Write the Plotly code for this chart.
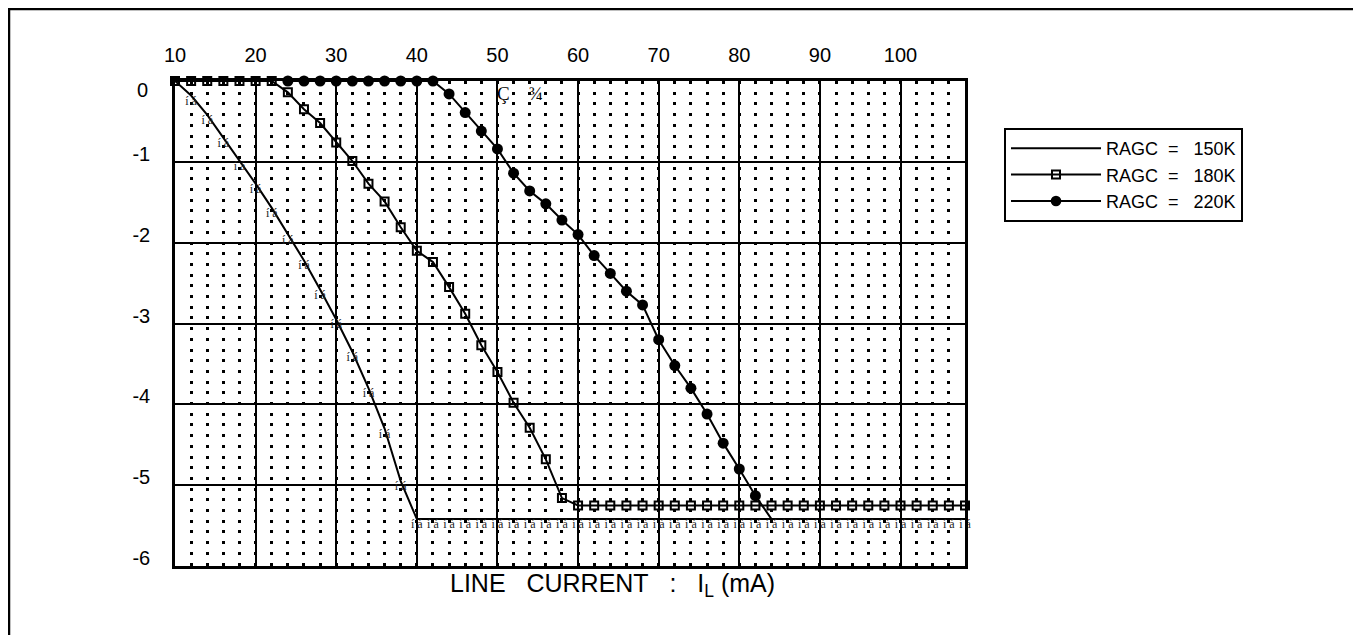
import plotly.graph_objects as go

# ---------------- data ----------------
x_150 = [10, 12, 14, 16, 18, 20, 22, 24, 26, 28, 30, 32, 34, 36, 38, 40, 42, 44, 46, 48,
         50, 52, 54, 56, 58, 60, 62, 64, 66, 68, 70, 72, 74, 76, 78, 80, 82, 84, 86, 88,
         90, 92, 94, 96, 98, 100, 102, 104, 106, 108]
y_150 = [0, -0.18, -0.42, -0.70, -0.99, -1.27, -1.57, -1.90, -2.22, -2.58, -2.95, -3.35,
         -3.80, -4.30, -4.95, -5.42, -5.42, -5.42, -5.42, -5.42, -5.42, -5.42, -5.42, -5.42,
         -5.42, -5.42, -5.42, -5.42, -5.42, -5.42, -5.42, -5.42, -5.42, -5.42, -5.42, -5.42,
         -5.42, -5.42, -5.42, -5.42, -5.42, -5.42, -5.42, -5.42, -5.42, -5.42, -5.42, -5.42,
         -5.42, -5.42]

x_180 = [10, 12, 14, 16, 18, 20, 22, 24, 26, 28, 30, 32, 34, 36, 38, 40, 42, 44, 46, 48,
         50, 52, 54, 56, 58, 60, 62, 64, 66, 68, 70, 72, 74, 76, 78, 80, 82, 84, 86, 88,
         90, 92, 94, 96, 98, 100, 102, 104, 106, 108]
y_180 = [0, 0, 0, 0, 0, 0, 0, -0.14, -0.35, -0.52, -0.76, -0.99, -1.27, -1.49, -1.81,
         -2.10, -2.24, -2.55, -2.88, -3.27, -3.60, -3.98, -4.29, -4.68, -5.16, -5.25,
         -5.25, -5.25, -5.25, -5.25, -5.25, -5.25, -5.25, -5.25, -5.25, -5.25, -5.25,
         -5.25, -5.25, -5.25, -5.25, -5.25, -5.25, -5.25, -5.25, -5.25, -5.25, -5.25,
         -5.25, -5.25]

x_220 = [24, 26, 28, 30, 32, 34, 36, 38, 40, 42, 44, 46, 48, 50, 52, 54, 56, 58, 60, 62,
         64, 66, 68, 70, 72, 74, 76, 78, 80, 82, 84]
y_220 = [0, 0, 0, 0, 0, 0, 0, 0, 0, 0, -0.16, -0.39, -0.62, -0.84, -1.14, -1.36, -1.52,
         -1.72, -1.90, -2.16, -2.38, -2.60, -2.77, -3.20, -3.52, -3.80, -4.12, -4.48,
         -4.80, -5.13, -5.42]

series_names = ["RAGC\u00a0\u00a0=\u00a0\u00a0\u00a0150K", "RAGC\u00a0\u00a0=\u00a0\u00a0\u00a0180K",
                "RAGC\u00a0\u00a0=\u00a0\u00a0\u00a0220K"]
x_ticks = [10, 20, 30, 40, 50, 60, 70, 80, 90, 100]
y_ticks = [0, -1, -2, -3, -4, -5, -6]
y_tick_labels = ["", "-1", "-2", "-3", "-4", "-5", "-6"]
y_zero_label = "0"
x_title = ("LINE\u00a0\u00a0\u00a0CURRENT\u00a0\u00a0\u00a0:\u00a0\u00a0\u00a0"
           "I<sub>L</sub>\u00a0(mA)")
note_text = "Ç\u00a0\u00a0\u00a0\u00a0¾"
glyph_text = "í\u00a0á"

# ---------------- figure ----------------
fig = go.Figure()

fig.add_trace(go.Scatter(
    x=x_150, y=y_150, mode="lines", name=series_names[0], legendgroup="a",
    line=dict(color="black", width=2), cliponaxis=False))
fig.add_trace(go.Scatter(
    x=x_150[1:], y=y_150[1:], mode="text", text=[glyph_text] * (len(x_150) - 1),
    textposition="bottom center", showlegend=False, hoverinfo="skip",
    textfont=dict(family="Liberation Serif, serif", size=12, color="#222"),
    cliponaxis=False))
fig.add_trace(go.Scatter(
    x=x_180, y=y_180, mode="lines+markers", name=series_names[1], legendgroup="b",
    line=dict(color="black", width=2),
    marker=dict(symbol="square-open", size=8, color="black", opacity=1,
                line=dict(width=2, color="black")),
    cliponaxis=False))
sizes_220 = [11] * (len(x_220) - 1) + [0]
fig.add_trace(go.Scatter(
    x=x_220, y=y_220, mode="lines+markers", name=series_names[2], legendgroup="c",
    line=dict(color="black", width=2),
    marker=dict(symbol="circle", size=sizes_220, color="black", opacity=1,
                line=dict(width=0, color="black")),
    cliponaxis=False))

# page body margin offset (reference pixel P -> figure pixel P - OFF)
OFF = 8
W, H = 1361 - OFF, 635 - OFF
L = 175 - OFF
T = 81 - OFF
R = W - (965 - OFF)
B = H - (566 - OFF)
pw, ph = W - L - R, H - T - B

def px(xp):
    return (xp - OFF - L) / pw

def py(yp):
    return (H - B - (yp - OFF)) / ph

fig.update_layout(
    width=W, height=H,
    margin=dict(l=L, r=R, t=T, b=B, pad=0),
    paper_bgcolor="white", plot_bgcolor="white",
    font=dict(family="Arial, Liberation Sans, sans-serif", size=20, color="black"),
    xaxis=dict(
        range=[10, 108], side="top", tickmode="array", tickvals=x_ticks,
        showgrid=True, gridcolor="black", gridwidth=2, zeroline=False,
        showline=True, linecolor="black", linewidth=2.5, mirror="ticks",
        ticks="inside", ticklen=5, tickwidth=2, tickcolor="black",
        ticklabelstandoff=8,
        minor=dict(dtick=2, tick0=10, showgrid=True, gridcolor="black", gridwidth=3,
                   griddash="3px,7.7px", ticks=""),
    ),
    yaxis=dict(
        range=[-6, 0], tickmode="array", tickvals=y_ticks, ticktext=y_tick_labels,
        showgrid=True, gridcolor="black", gridwidth=2, zeroline=False,
        showline=True, linecolor="black", linewidth=2.5, mirror=True,
        ticks="", ticklabelstandoff=18, ticklabelshift=-8,
    ),
    legend=dict(
        x=px(1004), y=py(128), xanchor="left", yanchor="top",
        bordercolor="black", borderwidth=2, bgcolor="white",
        font=dict(size=18), itemwidth=90, tracegroupgap=0,
    ),
    showlegend=True,
    shapes=[dict(type="rect", xref="paper", yref="paper",
                 x0=px(OFF + 1), x1=px(1355), y0=py(650), y1=py(OFF + 1),
                 line=dict(color="black", width=2.5), layer="above")],
    annotations=[
        dict(text=x_title, xref="paper", yref="paper", x=px(612), y=py(585),
             xanchor="center", yanchor="middle", showarrow=False,
             font=dict(size=25)),
        dict(text=note_text, xref="x", yref="y", x=52.8, y=-0.15,
             xanchor="center", yanchor="middle", showarrow=False,
             font=dict(family="Liberation Serif, serif", size=19)),
        dict(text=y_zero_label, xref="paper", yref="paper", x=px(150), y=py(90),
             xanchor="right", yanchor="middle", showarrow=False,
             font=dict(size=20)),
    ],
)

fig.write_html("out.html")
